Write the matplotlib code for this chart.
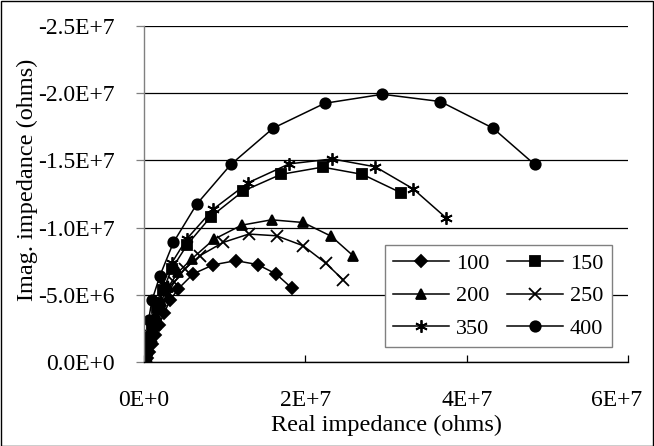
import matplotlib
matplotlib.use("Agg")
import matplotlib.pyplot as plt
from matplotlib.ticker import FixedLocator
from matplotlib.transforms import ScaledTranslation
from matplotlib.patches import Rectangle

plt.rcParams['font.family'] = ['Liberation Serif', 'DejaVu Serif']

# Data (real part, imaginary part) in ohms
x100 = [0.37e6, 0.62e6, 0.99e6, 1.36e6, 1.86e6, 2.48e6, 3.22e6, 4.25e6, 6.11e6, 8.58e6, 11.39e6, 14.08e6, 16.35e6, 18.29e6]
y100 = [-0.30e6, -0.74e6, -1.33e6, -2.00e6, -2.74e6, -3.62e6, -4.59e6, -5.45e6, -6.56e6, -7.23e6, -7.54e6, -7.25e6, -6.56e6, -5.52e6]

x150 = [0.19e6, 0.37e6, 0.62e6, 0.99e6, 1.61e6, 2.35e6, 3.47e6, 5.36e6, 8.30e6, 12.30e6, 16.97e6, 22.13e6, 27.08e6, 31.83e6]
y150 = [-0.30e6, -0.89e6, -1.78e6, -2.81e6, -3.99e6, -5.33e6, -6.95e6, -8.73e6, -10.82e6, -12.72e6, -13.96e6, -14.50e6, -13.96e6, -12.60e6]

x200 = [0.19e6, 0.37e6, 0.62e6, 0.99e6, 1.49e6, 2.11e6, 2.97e6, 4.21e6, 5.91e6, 8.67e6, 12.10e6, 15.81e6, 19.73e6, 23.20e6, 25.92e6]
y200 = [-0.30e6, -0.81e6, -1.63e6, -2.51e6, -3.48e6, -4.51e6, -5.55e6, -6.66e6, -7.67e6, -9.13e6, -10.18e6, -10.58e6, -10.38e6, -9.36e6, -7.91e6]

x250 = [0.25e6, 0.50e6, 0.87e6, 1.36e6, 1.98e6, 2.72e6, 3.72e6, 5.08e6, 6.93e6, 9.82e6, 13.00e6, 16.43e6, 19.73e6, 22.50e6, 24.68e6]
y250 = [-0.44e6, -1.11e6, -1.92e6, -2.81e6, -3.77e6, -4.81e6, -5.92e6, -6.95e6, -7.91e6, -8.90e6, -9.52e6, -9.39e6, -8.65e6, -7.37e6, -6.12e6]

x350 = [0.19e6, 0.37e6, 0.62e6, 0.99e6, 1.61e6, 2.35e6, 3.47e6, 5.29e6, 8.58e6, 12.92e6, 17.99e6, 23.32e6, 28.69e6, 33.35e6, 37.40e6]
y350 = [-0.37e6, -1.04e6, -2.00e6, -3.11e6, -4.36e6, -5.77e6, -7.40e6, -9.15e6, -11.37e6, -13.34e6, -14.74e6, -15.11e6, -14.52e6, -12.89e6, -10.75e6]

x400 = [0.12e6, 0.19e6, 0.31e6, 0.56e6, 0.99e6, 1.98e6, 3.65e6, 6.53e6, 10.77e6, 16.01e6, 22.41e6, 29.56e6, 36.74e6, 43.26e6, 48.42e6]
y400 = [-0.30e6, -0.89e6, -1.78e6, -3.11e6, -4.59e6, -6.43e6, -8.90e6, -11.74e6, -14.70e6, -17.40e6, -19.25e6, -19.92e6, -19.38e6, -17.40e6, -14.70e6]

labels = ['100', '150', '200', '250', '350', '400']
xticks = [0, 2e7, 4e7, 6e7]
xtick_labels = ['0E+0', '2E+7', '4E+7', '6E+7']
yticks = [0, -5e6, -1e7, -1.5e7, -2e7, -2.5e7]
ytick_labels = ['0.0E+0', '-5.0E+6', '-1.0E+7', '-1.5E+7', '-2.0E+7', '-2.5E+7']

W, H = 654, 446
fig = plt.figure(figsize=(W / 100, H / 100), dpi=100)
ax = fig.add_axes([144 / W, 1 - 362 / H, (628 - 144) / W, (362 - 26) / H])

series = [
    (x100, y100, 'D', 6.5),
    (x150, y150, 's', 6.5),
    (x200, y200, '^', 7.5),
    (x250, y250, 'x', 8),
    (x350, y350, (6, 2, 0), 9),
    (x400, y400, 'o', 7.5),
]
handles = []
for (xs, ys, mk, ms), lab in zip(series, labels):
    h, = ax.plot(xs, ys, color='black', lw=1.1, marker=mk, ms=ms,
                 mfc='black', mec='black', mew=1.3, label=lab)
    handles.append(h)

ax.set_xlim(0, 6e7)
ax.set_ylim(0, -2.5e7)
ax.xaxis.set_major_locator(FixedLocator(xticks))
ax.yaxis.set_major_locator(FixedLocator(yticks))
ax.set_xticklabels(xtick_labels)
ax.set_yticklabels(ytick_labels)

ax.grid(axis='y', color='black', lw=0.9)
ax.set_axisbelow(True)
for s in ['top', 'right']:
    ax.spines[s].set_visible(False)
ax.spines['left'].set_color('#808080')
ax.spines['bottom'].set_color('black')
ax.spines['left'].set_linewidth(1.0)
ax.spines['bottom'].set_linewidth(1.0)

ax.tick_params(axis='x', direction='in', length=5, width=0.9, pad=20,
               labelsize=17, color='black')
ax.tick_params(axis='y', direction='out', length=5.5, width=0.9, pad=15.5,
               labelsize=17, color='#808080')

# Excel pulls the last x label inside the chart area
lbls = ax.get_xticklabels()
lbls[-1].set_transform(lbls[-1].get_transform() + ScaledTranslation(-11 / 100, 0, fig.dpi_scale_trans))

fig.text(27 / W, 1 - 180 / H, 'Imag. impedance (ohms)', rotation=90,
         ha='center', va='center', fontsize=17.5)
fig.text(386 / W, 1 - 425 / H, 'Real impedance (ohms)',
         ha='center', va='center', fontsize=17.5)

order = [0, 2, 4, 1, 3, 5]
leg = ax.legend([handles[i] for i in order], [labels[i] for i in order],
                ncol=2, loc='upper left', bbox_to_anchor=(385 / W, 1 - 245 / H),
                bbox_transform=fig.transFigure, fontsize=16, frameon=True,
                fancybox=False, edgecolor='#808080', framealpha=1,
                handlelength=2.5, handletextpad=0.32, columnspacing=0.8,
                labelspacing=0.53, borderpad=0.38, borderaxespad=0)
leg.get_frame().set_linewidth(1.0)

fig.patches.append(Rectangle((0.5 / W, 0.5 / H), 1 - 1.5 / W, 1 - 1.5 / H,
                             transform=fig.transFigure, fill=False,
                             edgecolor='black', lw=1.0))

fig.savefig('out.png', dpi=100)
